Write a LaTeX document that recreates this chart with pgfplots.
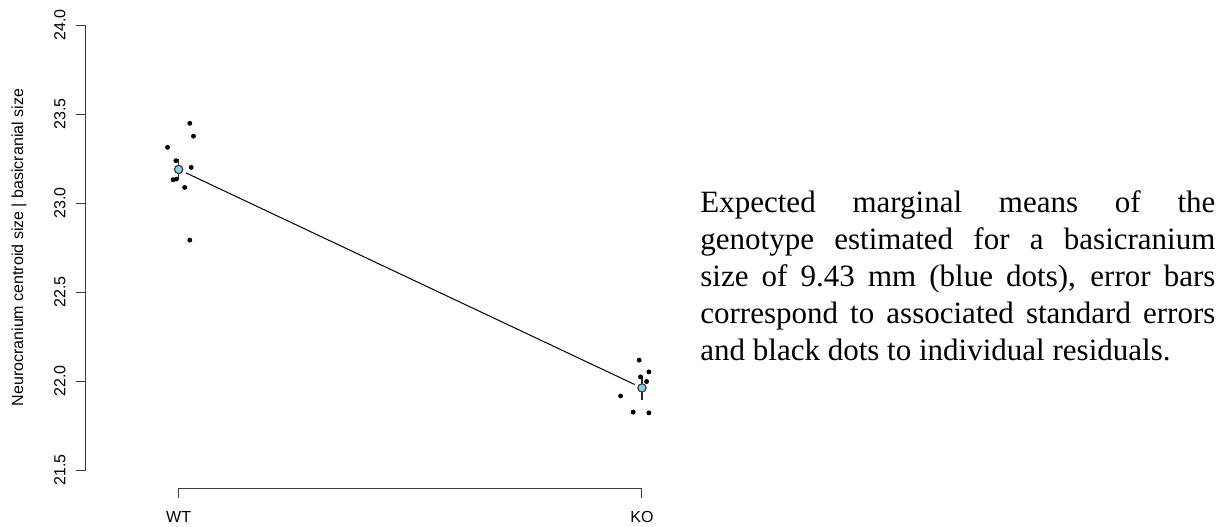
\documentclass[border=0pt]{standalone}
\usepackage{fontspec}
\setmainfont{Liberation Serif}
\setsansfont{Liberation Sans}
\usepackage{pgfplots}
\pgfplotsset{compat=1.18}
\definecolor{meanblue}{RGB}{135,206,235}
\definecolor{axgray}{RGB}{60,60,60}
\begin{document}
\begin{tikzpicture}
\useasboundingbox (-43pt,-19pt) rectangle (571.5pt,244pt);
\begin{axis}[
  at={(0,0)}, anchor=south west,
  scale only axis,
  width=324.3pt, height=240.4pt,
  xmin=0.8, xmax=2.2, ymin=21.4, ymax=24.1,
  axis x line*=bottom, axis y line*=left,
  axis line style={draw=none},
  tick align=outside,
  major tick length=5pt,
  tick style={axgray, line width=0.5pt},
  xtick={1,2}, xticklabels={WT,KO},
  ytick={21.5,22,22.5,23,23.5,24},
  yticklabel style={rotate=90, anchor=south, inner sep=0pt,
    /pgf/number format/.cd, fixed, fixed zerofill, precision=1, assume math mode=true},
  xticklabel style={anchor=north, inner sep=0pt},
  yticklabel shift=5pt,
  xticklabel shift=6.5pt,
  tick label style={font=\sffamily\fontsize{8}{9}\selectfont},
  clip=false,
]
\draw[axgray, line width=0.5pt] (axis cs:0.8,21.5) -- (axis cs:0.8,24);
\draw[axgray, line width=0.5pt] (axis cs:1,21.4) -- (axis cs:2,21.4);
% residuals
\addplot[only marks, mark=*, mark size=1pt, black] coordinates {
 (1.024,23.448) (1.032,23.376) (0.976,23.313) (0.994,23.238) (1.027,23.200)
 (0.988,23.131) (0.995,23.135) (1.013,23.088) (1.024,22.792)
 (1.994,22.118) (2.015,22.052) (1.997,22.024) (2.010,21.998)
 (1.954,21.917) (1.981,21.826) (2.015,21.822)
};
% line connecting means
\addplot[black, line width=0.5pt, shorten <=4pt, shorten >=4pt] coordinates {(1,23.189) (2,21.962)};
% error bars
\addplot[only marks, mark=none, axgray, line width=0.7pt,
  error bars/.cd, y dir=both, y explicit, error mark=none,
  error bar style={black!85, line width=0.8pt}] coordinates {
  (1,23.189) +- (0,0.06)
  (2,21.962) +- (0,0.065)
};
% means
\addplot[only marks, mark=*, mark size=2pt, mark options={fill=meanblue, draw=black!80, line width=0.4pt}] coordinates {(1,23.189) (2,21.962)};
\node[rotate=90, font=\sffamily\fontsize{8}{9}\selectfont] at ([xshift=-33.5pt]axis description cs:0,0.5) {Neurocranium centroid size | basicranial size};
\end{axis}
\node[anchor=north west, inner sep=0pt, text width=257.5pt, align=justify,
  font=\fontsize{15.5}{18.5}\selectfont] at (307pt,148.7pt)
  {Expected marginal means of the\linebreak genotype estimated for a basicranium\linebreak size of 9.43 mm (blue dots), error bars\linebreak correspond to associated standard errors\linebreak and black dots to individual residuals.};
\end{tikzpicture}
\end{document}
